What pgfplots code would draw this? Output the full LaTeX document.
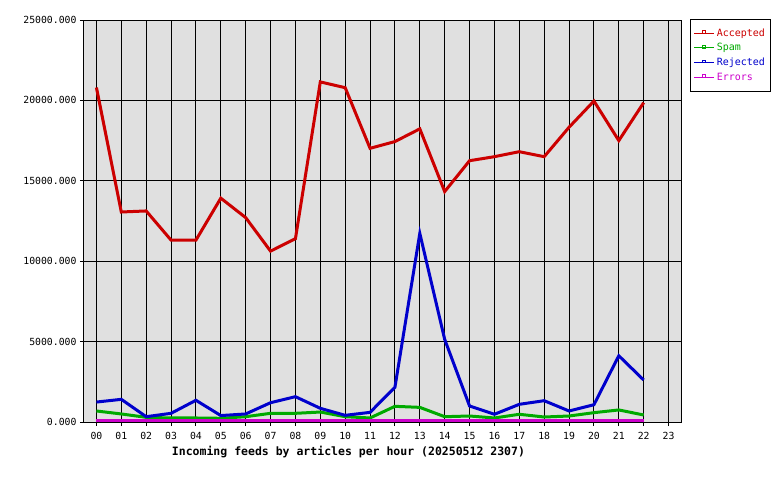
\documentclass[border=0pt]{standalone}
\usepackage{pgfplots}
\pgfplotsset{compat=1.18}
\usepackage{fontspec}
\setmainfont{DejaVu Sans Mono}
\definecolor{cacc}{RGB}{204,0,0}
\definecolor{cspam}{RGB}{0,170,0}
\definecolor{crej}{RGB}{0,0,204}
\definecolor{cerr}{RGB}{204,0,204}
\definecolor{cbg}{RGB}{224,224,224}
\begin{document}
\begin{tikzpicture}
\useasboundingbox (-84pt,-58pt) rectangle (696pt,422pt);
\begin{axis}[
  at={(0pt,0pt)}, anchor=south west,
  scale only axis, width=597pt, height=402pt,
  xmin=-0.5, xmax=23.5, ymin=0, ymax=25000,
  axis background/.style={fill=cbg},
  xtick={0,...,23},
  xticklabels={00,01,02,03,04,05,06,07,08,09,10,11,12,13,14,15,16,17,18,19,20,21,22,23},
  ytick={0,5000,10000,15000,20000,25000},
  scaled y ticks=false,
  /pgf/number format/.cd, fixed, fixed zerofill, precision=3, 1000 sep={}, assume math mode=true,
  /pgfplots/.cd,
  tick label style={font=\fontsize{9.8}{11}\selectfont, text=black},
  xticklabel style={yshift=-3pt},
  grid=major,
  major grid style={black, line width=0.9pt},
  axis line style={black, line width=1pt},
  tick style={black, line width=0.9pt},
  tick align=outside,
  major tick length=4pt,
  xtick pos=bottom, ytick pos=left,
  legend style={at={(rel axis cs:1.015,1.0025)}, anchor=north west, draw=black, line width=0.8pt, fill=white,
    font=\fontsize{10}{11}\selectfont, row sep=1.7pt, inner xsep=3.5pt, inner ysep=7.3pt},
  legend cell align=left,
  legend image code/.code={
    \draw[#1, line width=1pt] (0pt,0pt) -- (20pt,0pt);
    \draw[#1, line width=0.8pt] (8.5pt,0pt) rectangle (11.5pt,2.5pt);
  },
  every axis plot/.append style={line width=3pt, mark=none},
]
\addplot[cacc] coordinates {
(0,20800) (1,13060) (2,13125) (3,11310) (4,11310) (5,13920) (6,12710) (7,10625)
(8,11400) (9,21150) (10,20790) (11,17020) (12,17440) (13,18230) (14,14330) (15,16250)
(16,16500) (17,16810) (18,16500) (19,18330) (20,19960) (21,17500) (22,19860)};
\addlegendentry{\textcolor{cacc}{Accepted}}
\addplot[cspam] coordinates {
(0,685) (1,500) (2,290) (3,250) (4,250) (5,230) (6,330) (7,540)
(8,540) (9,620) (10,330) (11,250) (12,975) (13,910) (14,330) (15,373)
(16,250) (17,480) (18,310) (19,373) (20,580) (21,750) (22,435)};
\addlegendentry{\textcolor{cspam}{Spam}}
\addplot[crej] coordinates {
(0,1240) (1,1410) (2,330) (3,540) (4,1350) (5,400) (6,500) (7,1200)
(8,1575) (9,850) (10,415) (11,600) (12,2160) (13,11730) (14,5140) (15,995)
(16,480) (17,1100) (18,1325) (19,685) (20,1075) (21,4120) (22,2610)};
\addlegendentry{\textcolor{crej}{Rejected}}
\addplot[cerr] coordinates {
(0,80) (1,80) (2,80) (3,80) (4,80) (5,80) (6,80) (7,80)
(8,80) (9,80) (10,80) (11,80) (12,80) (13,80) (14,80) (15,80)
(16,80) (17,80) (18,80) (19,80) (20,80) (21,80) (22,80)};
\addlegendentry{\textcolor{cerr}{Errors}}
\end{axis}
\node[font=\fontsize{11.5}{13}\selectfont\bfseries, anchor=center] at (264.5pt,-30pt)
  {Incoming feeds by articles per hour (20250512 2307)};
\end{tikzpicture}
\end{document}
